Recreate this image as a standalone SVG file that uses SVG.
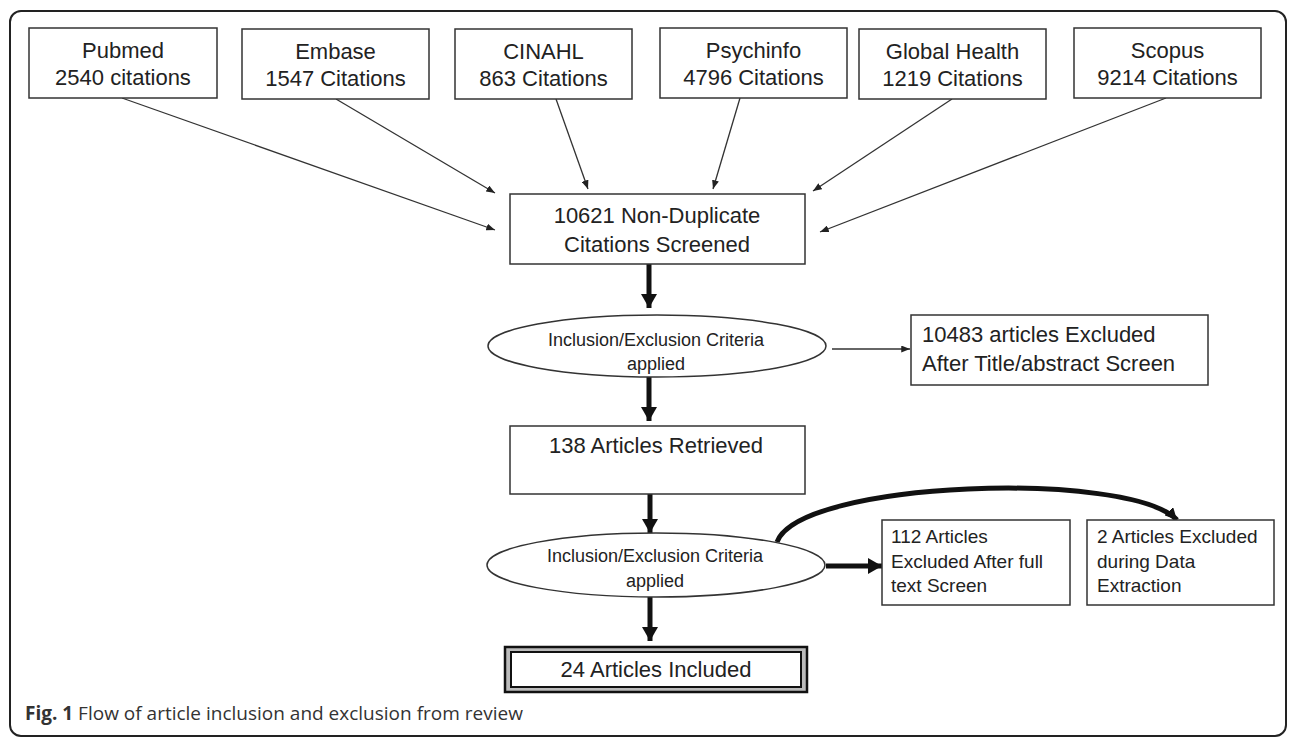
<svg xmlns="http://www.w3.org/2000/svg" width="1290" height="738" viewBox="0 0 1290 738">
<style>
.box{fill:#fff;stroke:#333;stroke-width:1.5}
.t{font-family:"Liberation Sans",Arial,sans-serif;font-size:22px;fill:#222}
.c{text-anchor:middle}
.s{font-size:18px}
.n{font-size:19px}
.thin{fill:none;stroke:#333;stroke-width:1.3}
.thick{fill:none;stroke:#111;stroke-width:5}
.cap{font-family:"Open Sans","Liberation Sans",sans-serif;font-size:19px;fill:#333}
</style>
<defs>
<marker id="ah" viewBox="0 0 10 8" refX="10" refY="4" markerWidth="9" markerHeight="7" markerUnits="userSpaceOnUse" orient="auto">
<path d="M0,0 L10,4 L0,8 z" fill="#222"/>
</marker>
<marker id="ahb" viewBox="0 0 14 16" refX="14" refY="8" markerWidth="14" markerHeight="16" markerUnits="userSpaceOnUse" orient="auto">
<path d="M0,0 L14,8 L0,16 z" fill="#111"/>
</marker>
<marker id="ahc" viewBox="0 0 12 12" refX="12" refY="6" markerWidth="12" markerHeight="12" markerUnits="userSpaceOnUse" orient="auto">
<path d="M0,0 L12,6 L0,12 z" fill="#111"/>
</marker>
</defs>
<rect x="10" y="11" width="1276" height="725" rx="11" fill="#fff" stroke="#222" stroke-width="2"/>
<g id="connectors">
<line class="thin" x1="122" y1="98" x2="495" y2="230" marker-end="url(#ah)"/>
<line class="thin" x1="336" y1="99" x2="495" y2="193" marker-end="url(#ah)"/>
<line class="thin" x1="556" y1="99" x2="588" y2="189" marker-end="url(#ah)"/>
<line class="thin" x1="740" y1="98" x2="713" y2="189" marker-end="url(#ah)"/>
<line class="thin" x1="952" y1="99" x2="813" y2="191" marker-end="url(#ah)"/>
<line class="thin" x1="1166" y1="98" x2="820" y2="232" marker-end="url(#ah)"/>
<line class="thick" x1="649" y1="264" x2="649" y2="308" marker-end="url(#ahb)"/>
<line class="thick" x1="649" y1="377" x2="649" y2="421" marker-end="url(#ahb)"/>
<line class="thin" x1="832" y1="349" x2="910" y2="349" marker-end="url(#ah)"/>
<line class="thick" x1="650" y1="494" x2="650" y2="533" marker-end="url(#ahb)"/>
<line class="thick" x1="650" y1="597" x2="650" y2="641" marker-end="url(#ahb)"/>
<line class="thick" x1="826" y1="566" x2="882" y2="566" stroke-width="6" marker-end="url(#ahb)"/>
<path class="thick" d="M777,542 C800,480 1130,470 1177,520" stroke-width="4" marker-end="url(#ahc)"/>
</g>
<g id="pubmed"><rect class="box" x="29" y="28" width="188" height="70"/><text class="t c" x="123" y="58">Pubmed</text><text class="t c" x="123" y="85">2540 citations</text></g>
<g id="embase"><rect class="box" x="242" y="29" width="187" height="70"/><text class="t c" x="335.5" y="59">Embase</text><text class="t c" x="335.5" y="86">1547 Citations</text></g>
<g id="cinahl"><rect class="box" x="455" y="29" width="177" height="70"/><text class="t c" x="543.5" y="59">CINAHL</text><text class="t c" x="543.5" y="86">863 Citations</text></g>
<g id="psychinfo"><rect class="box" x="660" y="28" width="187" height="70"/><text class="t c" x="753.5" y="58">Psychinfo</text><text class="t c" x="753.5" y="85">4796 Citations</text></g>
<g id="globalhealth"><rect class="box" x="859" y="29" width="187" height="70"/><text class="t c" x="952.5" y="59">Global Health</text><text class="t c" x="952.5" y="86">1219 Citations</text></g>
<g id="scopus"><rect class="box" x="1074" y="28" width="187" height="70"/><text class="t c" x="1167.5" y="58">Scopus</text><text class="t c" x="1167.5" y="85">9214 Citations</text></g>
<g id="nondup"><rect class="box" x="510" y="194" width="295" height="70"/><text class="t c" x="657" y="223">10621 Non-Duplicate</text><text class="t c" x="657" y="252">Citations Screened</text></g>
<g id="criteria1"><ellipse class="box" cx="657" cy="346" rx="169" ry="31"/><text class="t c s" x="656" y="346">Inclusion/Exclusion  Criteria</text><text class="t c s" x="656" y="370">applied</text></g>
<g id="excluded1"><rect class="box" x="911" y="315" width="297" height="70"/><text class="t" x="922" y="342">10483 articles Excluded</text><text class="t" x="922" y="371">After Title/abstract Screen</text></g>
<g id="retrieved"><rect class="box" x="510" y="426" width="295" height="68"/><text class="t c" x="656" y="453">138 Articles Retrieved</text></g>
<g id="criteria2"><ellipse class="box" cx="656" cy="565" rx="169" ry="32"/><text class="t c s" x="655" y="562">Inclusion/Exclusion  Criteria</text><text class="t c s" x="655" y="587">applied</text></g>
<g id="excluded2"><rect class="box" x="882" y="520" width="188" height="85"/><text class="t n" x="891" y="543">112 Articles</text><text class="t n" x="891" y="568">Excluded  After full</text><text class="t n" x="891" y="592">text Screen</text></g>
<g id="excluded3"><rect class="box" x="1087" y="520" width="187" height="85"/><text class="t n" x="1097" y="543">2 Articles  Excluded</text><text class="t n" x="1097" y="568">during Data</text><text class="t n" x="1097" y="592">Extraction</text></g>
<g id="included"><rect x="505" y="647" width="302" height="45" fill="#bbb" stroke="#111" stroke-width="2.5"/><rect x="511" y="652" width="290" height="35" fill="#fff" stroke="#111" stroke-width="2"/><text class="t c" x="656" y="677">24 Articles Included</text></g>
<text class="cap" x="25" y="720"><tspan font-weight="bold">Fig. 1</tspan> Flow of article inclusion and exclusion from review</text>
</svg>
